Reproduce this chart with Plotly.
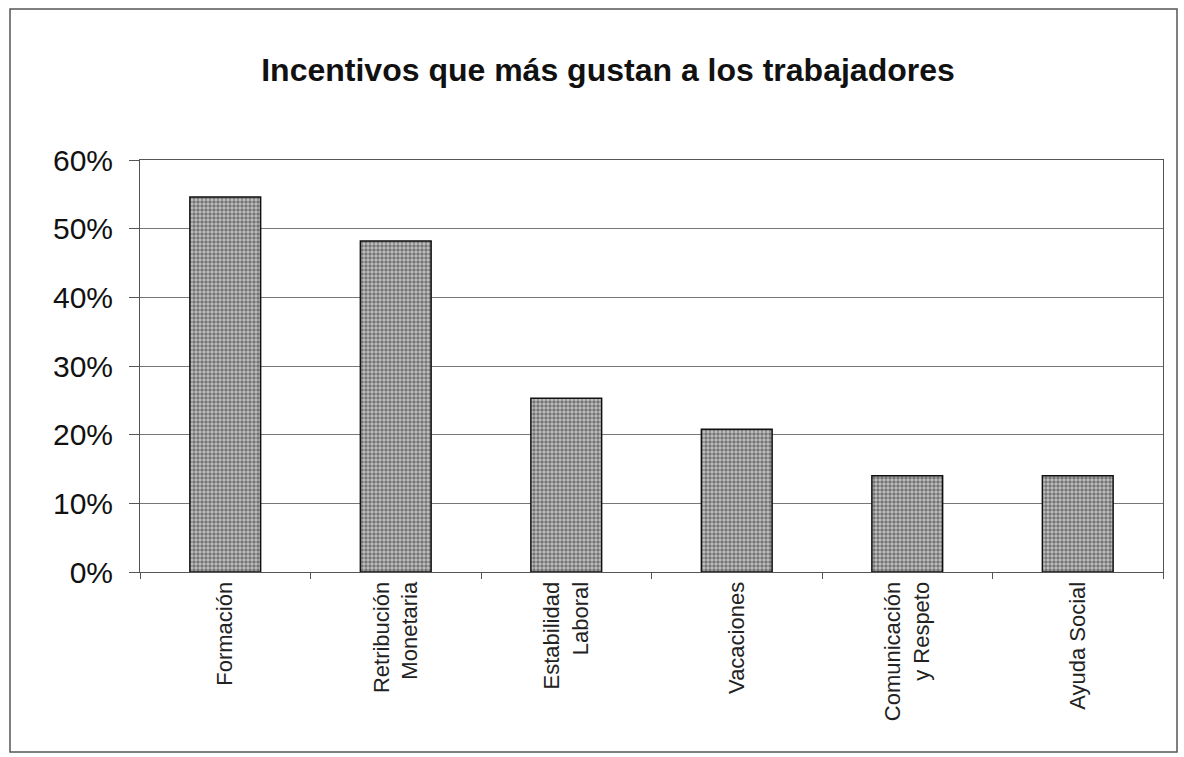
import plotly.graph_objects as go

# Categories and shares (fraction of workers)
categorias = [
    "Formación",
    "Retribución<br>Monetaria",
    "Estabilidad<br>Laboral",
    "Vacaciones",
    "Comunicación<br>y Respeto",
    "Ayuda Social",
]
valores = [0.546, 0.482, 0.253, 0.208, 0.14, 0.14]
ticks_y = [0, 0.1, 0.2, 0.3, 0.4, 0.5, 0.6]
etiquetas_y = ["0%", "10%", "20%", "30%", "40%", "50%", "60%"]

W, H = 1184, 757
ML, MR, MT, MB = 140, 21, 160, 185

fig = go.Figure(
    go.Bar(
        x=categorias,
        y=valores,
        width=0.415,
        marker=dict(
            color="#8c8c8c",
            line=dict(color="#111111", width=1.5),
            pattern=dict(shape=".", fgcolor="#262626", bgcolor="#c4c4c4",
                         size=4, solidity=0.6, fillmode="overlay"),
        ),
    )
)

# Outer frame around the whole chart, expressed in paper units
pw = W - ML - MR
ph = H - MT - MB
def px_x(p):
    return (p - ML) / pw
def px_y(p):
    return (H - MB - p) / ph

fig.add_shape(
    type="rect", xref="paper", yref="paper",
    x0=px_x(10), x1=px_x(1177), y0=px_y(752), y1=px_y(9),
    line=dict(color="#555555", width=1.5), fillcolor="rgba(0,0,0,0)", layer="below",
)

fig.update_layout(
    width=W, height=H,
    margin=dict(l=ML, r=MR, t=MT, b=MB, autoexpand=False),
    paper_bgcolor="white", plot_bgcolor="white",
    showlegend=False,
    font=dict(family="Liberation Sans, Arial, sans-serif", color="#111111"),
    title=dict(
        text="<b>Incentivos que más gustan a los trabajadores</b>",
        x=608 / W, xanchor="center", y=1 - 70 / H, yanchor="middle",
        xref="container", yref="container",
        font=dict(size=32, color="#111111"),
    ),
)

fig.update_xaxes(
    type="category",
    tickangle=-90,
    tickfont=dict(size=22, color="#222222"),
    showline=True, linecolor="#555555", linewidth=1, mirror=True,
    ticks="outside", tickson="boundaries", ticklen=6, tickcolor="#555555",
    showgrid=False,
)

fig.update_yaxes(
    range=[0, 0.6],
    tickvals=ticks_y, ticktext=etiquetas_y,
    tickfont=dict(size=30, color="#111111"),
    showline=True, linecolor="#555555", linewidth=1, mirror=True,
    ticks="outside", ticklen=10, tickcolor="#555555",
    ticklabelstandoff=10,
    showgrid=True, gridcolor="#777777", gridwidth=1,
    zeroline=False,
)

fig.write_html("out.html")
